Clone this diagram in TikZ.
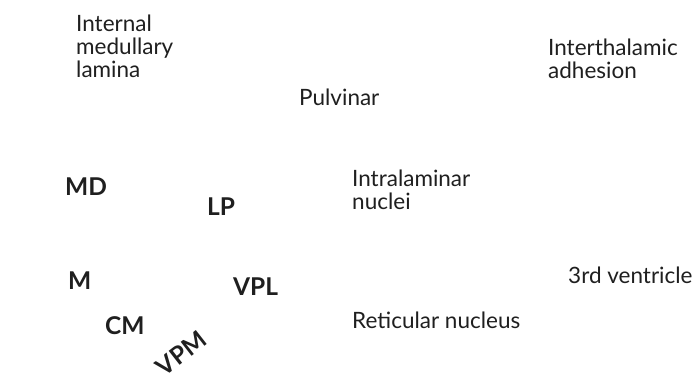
\documentclass[tikz,border=0pt]{standalone}
\usepackage{fontspec}
\setmainfont{Lato}
\begin{document}
\begin{tikzpicture}[x=1pt,y=-1pt,
  lbl/.style={anchor=base west,inner sep=0pt,align=left,text=black!88,font=\fontsize{22.5}{23.3}\selectfont},
  abbr/.style={anchor=base west,inner sep=0pt,text=black!88,font=\fontsize{24.5}{28}\selectfont\bfseries}]
\useasboundingbox (0,0) rectangle (697,382);
\node[lbl] (iml) at (76,78) {Internal\\medullary\\lamina};
\node[lbl] (pul) at (299,106) {Pulvinar};
\node[lbl] (iha) at (548,79) {Interthalamic\\adhesion};
\node[lbl] (iln) at (352,210) {Intralaminar\\nuclei};
\node[lbl] (ret) at (352,329) {Reticular nucleus};
\node[lbl] (v3) at (568,284) {3rd ventricle};
\node[abbr] (md) at (65,196) {MD};
\node[abbr] (lp) at (207,216) {LP};
\node[abbr] (m) at (68,290) {M};
\node[abbr] (vpl) at (233,296) {VPL};
\node[abbr] (cm) at (105,335) {CM};
\node[abbr,anchor=center,rotate=38,inner sep=0pt] (vpm) at (181,353) {VPM};
\end{tikzpicture}
\end{document}
